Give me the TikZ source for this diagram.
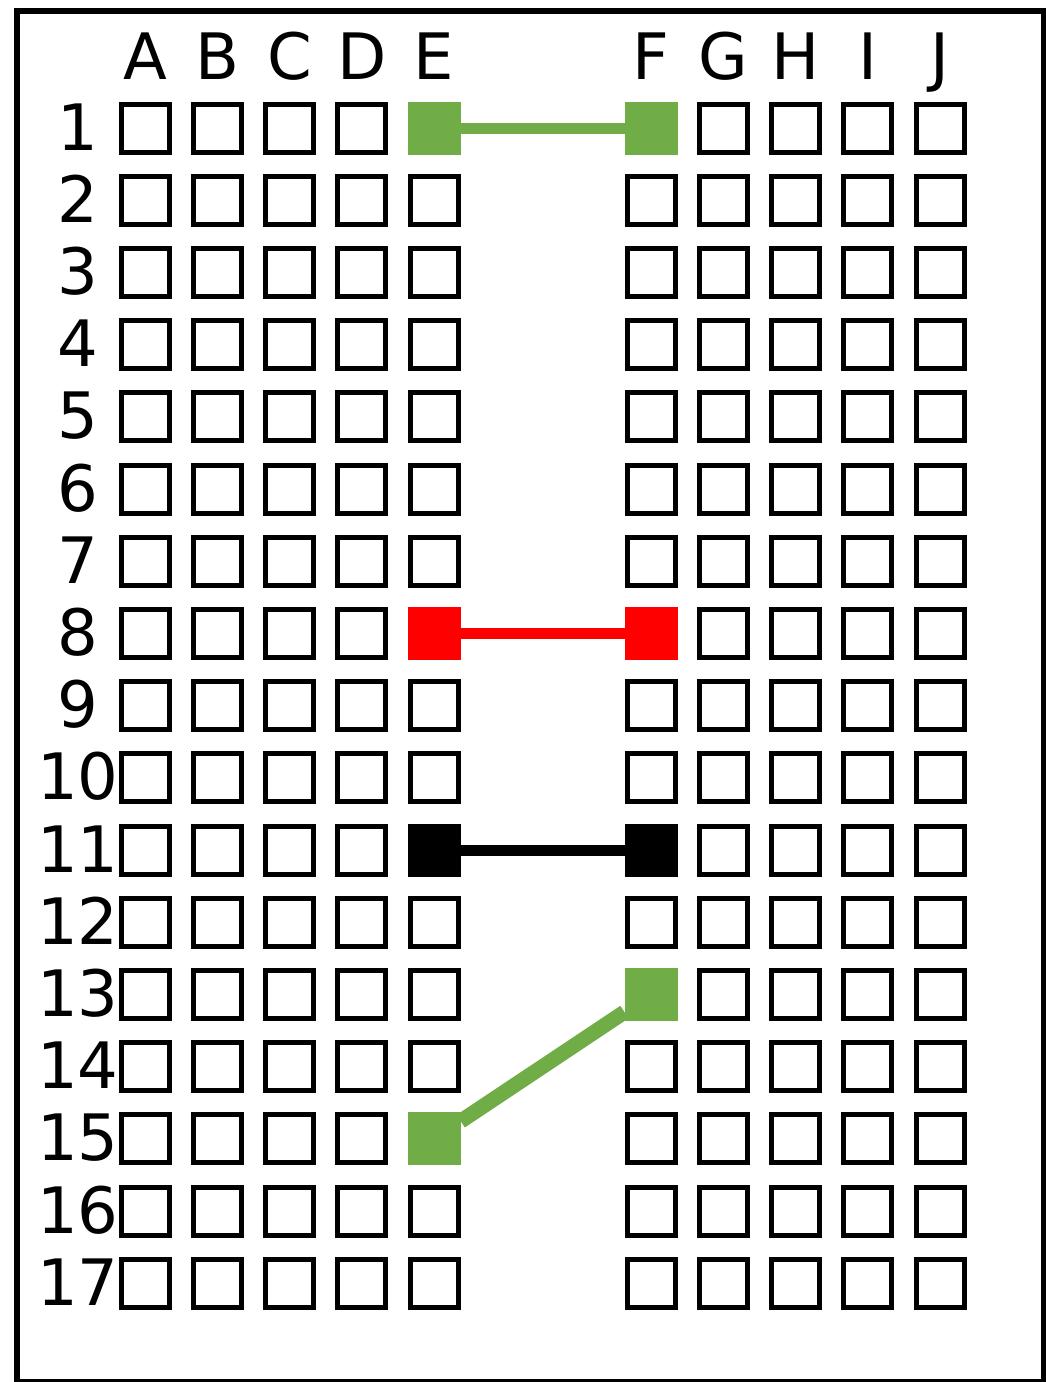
\documentclass[tikz,border=0pt]{standalone}
\usepackage{fontspec}
\setmainfont{DejaVu Sans}
\usetikzlibrary{positioning}
\definecolor{steckgruen}{HTML}{70AD47}
\definecolor{steckrot}{HTML}{FF0000}

\tikzset{
  steck E1/.style={fill=steckgruen, draw=steckgruen},
  steck F1/.style={fill=steckgruen, draw=steckgruen},
  steck E8/.style={fill=steckrot, draw=steckrot},
  steck F8/.style={fill=steckrot, draw=steckrot},
  steck E11/.style={fill=black},
  steck F11/.style={fill=black},
  steck E15/.style={fill=steckgruen, draw=steckgruen},
  steck F13/.style={fill=steckgruen, draw=steckgruen}
}

\begin{document}
\begin{tikzpicture}[x=1pt,y=-1pt,
  loch/.style={draw, line width=5pt, minimum size=48pt, inner sep=0pt},
  beschriftung/.style={font=\fontsize{64}{64}\selectfont, inner sep=0pt, anchor=base},
  kabel/.style={line width=11pt}]
\useasboundingbox (0,0) rectangle (1045,1382);
%Rahmen
\draw[line width=6pt] (16.5,10.5) rectangle (1044,1382);

%Reihen
\foreach \r in {1,...,17}
  \node[beschriftung] (n\r) at ({78},{150+72.2*(\r-1)}) {\r};

%Spalten links
\foreach \c [count=\i from 0] in {A,B,C,D,E} {
  \node[beschriftung] (l\c) at ({145+72.3*\i},79) {\c};
  \foreach \r in {1,...,17}
    \node[loch, steck \c\r/.try] (\c\r) at ({145+72.3*\i},{128+72.2*(\r-1)}) {};
}

%Spalten rechts
\foreach \c [count=\i from 0] in {F,G,H,I,J} {
  \node[beschriftung] (l\c) at ({651+72.25*\i},79) {\c};
  \foreach \r in {1,...,17}
    \node[loch, steck \c\r/.try] (\c\r) at ({651+72.25*\i},{128+72.2*(\r-1)}) {};
}

%Verbindungen
\draw[kabel, steckgruen] (E1) -- (F1);
\draw[kabel, steckrot] (E8) -- (F8);
\draw[kabel, black] (E11) -- (F11);
\draw[kabel, steckgruen, line width=15pt] (E15) -- (F13);
\end{tikzpicture}
\end{document}
